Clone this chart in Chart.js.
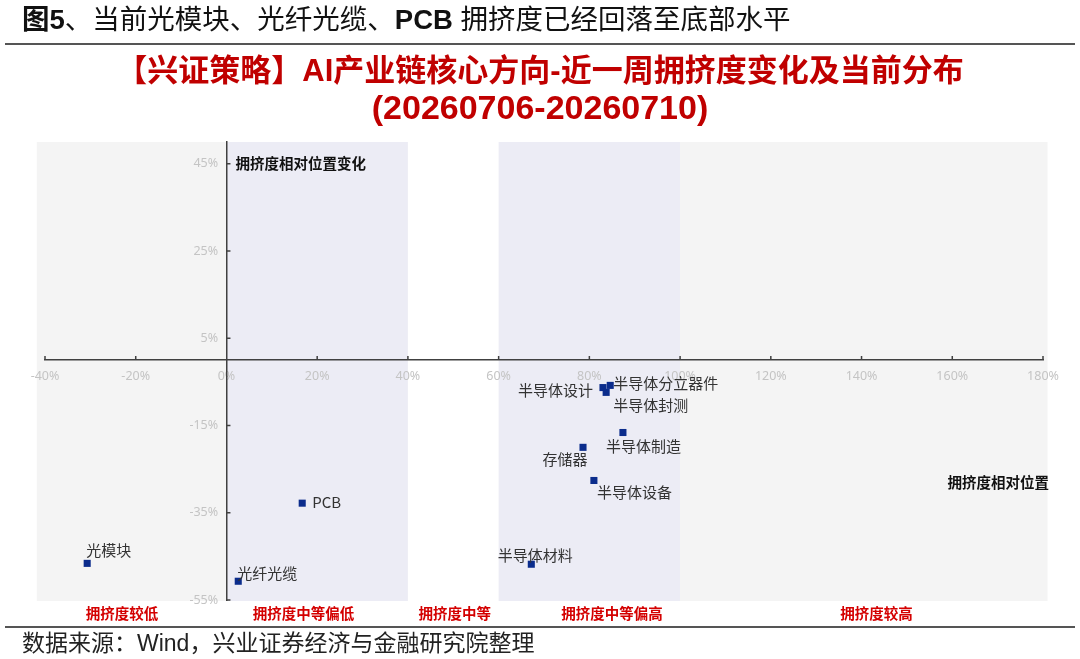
<!DOCTYPE html>
<html><head><meta charset="utf-8">
<script src="https://cdn.jsdelivr.net/npm/chart.js@4.4.1/dist/chart.umd.min.js"></script>
<style>
html,body{margin:0;padding:0;background:#fff;}
#wrap{position:relative;width:1080px;height:659px;overflow:hidden;font-family:"Liberation Sans","Noto Sans CJK SC",sans-serif;}
#c{position:absolute;left:0;top:0;}
.hdr{position:absolute;left:22px;top:5px;font-size:27.5px;line-height:30px;color:#111;white-space:nowrap;}
.rule{position:absolute;left:5px;width:1070px;height:2px;background:#555;}
.title{position:absolute;left:0;width:1080px;text-align:center;color:#c00000;font-weight:bold;font-size:31px;line-height:37px;white-space:nowrap;}
.foot{position:absolute;left:22px;top:630px;font-size:23px;line-height:26px;color:#222;white-space:nowrap;}
</style></head>
<body><div id="wrap">
<canvas id="c" width="1080" height="659"></canvas>
<div class="hdr"><b>图5</b>、当前光模块、光纤光缆、<b>PCB</b> 拥挤度已经回落至底部水平</div>
<div class="rule" style="top:43px"></div>
<div class="title" style="top:52px">【兴证策略】AI产业链核心方向-近一周拥挤度变化及当前分布</div>
<div class="title" style="top:88px;font-size:34px;line-height:38px">(20260706-20260710)</div>
<div class="rule" style="top:626px"></div>
<div class="foot">数据来源：Wind，兴业证券经济与金融研究院整理</div>
</div>
<script>
// ---- data ----
const names = ['光模块','光纤光缆','PCB','半导体材料','存储器','半导体设备','半导体制造','半导体设计','半导体分立器件','半导体封测'];
const xValues = [-30.7, 2.6, 16.7, 67.2, 78.6, 81.0, 87.4, 83.0, 84.6, 83.7];   // 拥挤度相对位置 (%)
const yValues = [-46.6, -50.7, -32.8, -46.8, -20.0, -27.6, -16.6, -6.3, -5.8, -7.4]; // 拥挤度相对位置变化 (%)
const xTicks = [-40, -20, 0, 20, 40, 60, 80, 100, 120, 140, 160, 180];
const yTicks = [-55, -35, -15, 5, 25, 45];
const zoneNames = ['拥挤度较低','拥挤度中等偏低','拥挤度中等','拥挤度中等偏高','拥挤度较高'];
const zoneEdges = [-41.8, 0, 40, 60, 100, 181];
const zoneLabelAt = [-23, 17, 50.3, 85, 143.3];

// ---- styles ----
const zoneColors = ['#f4f4f4','#ececf5','#ffffff','#ececf5','#f4f4f4'];
const labelPlace = { // [dx, dy, align]
  '光模块':[-1,-13,'left'], '光纤光缆':[-1,-8,'left'], 'PCB':[10,-1,'left'],
  '半导体材料':[4,-9,'center'], '存储器':[-18,12,'center'], '半导体设备':[3,12,'left'],
  '半导体制造':[-17,14,'left'], '半导体设计':[-10,3,'right'], '半导体分立器件':[3,-2,'left'],
  '半导体封测':[7,13,'left']
};
const CJK = '"Noto Sans CJK SC", sans-serif';

const bandsPlugin = {
  id: 'bands',
  beforeDraw(chart) {
    const {ctx, chartArea, scales:{x}} = chart;
    ctx.save();
    for (let i = 0; i < zoneColors.length; i++) {
      const l = x.getPixelForValue(zoneEdges[i]);
      const r = x.getPixelForValue(zoneEdges[i+1]);
      ctx.fillStyle = zoneColors[i];
      ctx.fillRect(l, chartArea.top, r - l, chartArea.bottom - chartArea.top + 1);
    }
    ctx.restore();
  },
  afterDraw(chart) {
    const {ctx, chartArea, scales:{x, y}} = chart;
    const x0 = x.getPixelForValue(0), y0 = y.getPixelForValue(0);
    ctx.save();
    ctx.strokeStyle = '#404040'; ctx.lineWidth = 1.5;
    ctx.beginPath();
    xTicks.forEach(v => { if (v === 0) return; const px = x.getPixelForValue(v); ctx.moveTo(px, y0 - 4); ctx.lineTo(px, y0); });
    yTicks.forEach(v => { const py = y.getPixelForValue(v); ctx.moveTo(x0, py); ctx.lineTo(x0 + 4, py); });
    ctx.stroke();
    // point labels
    const meta = chart.getDatasetMeta(0);
    ctx.font = '15px ' + CJK; ctx.fillStyle = '#333'; ctx.textBaseline = 'middle';
    meta.data.forEach((pt, i) => {
      const p = labelPlace[names[i]];
      ctx.textAlign = p[2];
      ctx.fillText(names[i], pt.x + p[0], pt.y + p[1]);
    });
    // zone labels
    ctx.font = 'bold 14.5px ' + CJK; ctx.fillStyle = '#d40000'; ctx.textAlign = 'center';
    zoneNames.forEach((n, i) => ctx.fillText(n, x.getPixelForValue(zoneLabelAt[i]), chartArea.bottom + 13));
    // axis titles
    ctx.font = 'bold 14.5px ' + CJK; ctx.fillStyle = '#111';
    ctx.textAlign = 'left';
    ctx.fillText('拥挤度相对位置变化', x0 + 9, y.getPixelForValue(45));
    ctx.textAlign = 'right';
    ctx.fillText('拥挤度相对位置', chartArea.right + 6, y.getPixelForValue(-28));
    ctx.restore();
  }
};

new Chart(document.getElementById('c'), {
  type: 'scatter',
  data: { datasets: [{
    data: xValues.map((v, i) => ({x: v, y: yValues[i]})),
    pointStyle: 'rect', pointRadius: 5, pointHoverRadius: 5,
    backgroundColor: '#0b2c8c', borderColor: '#0b2c8c', borderWidth: 0
  }]},
  options: {
    responsive: false, animation: false, devicePixelRatio: 1,
    layout: { padding: { left: 45, right: 37, top: 142, bottom: 59 } },
    plugins: { legend: {display: false}, tooltip: {enabled: false} },
    scales: {
      x: {
        type: 'linear', position: {y: 0}, min: -40, max: 180,
        afterBuildTicks: s => { s.ticks = xTicks.map(v => ({value: v})); },
        grid: {display: false, drawTicks: false},
        border: {display: true, color: '#404040', width: 1.5},
        ticks: {autoSkip: false, maxRotation: 0, padding: 9, color: '#c4c4c4', font: {size: 12.5, family: '"Noto Sans", sans-serif'}, callback: v => v + '%'}
      },
      y: {
        type: 'linear', position: {x: 0}, min: -55, max: 50,
        afterBuildTicks: s => { s.ticks = yTicks.map(v => ({value: v})); },
        grid: {display: false, drawTicks: false},
        border: {display: true, color: '#404040', width: 1.5},
        ticks: {autoSkip: false, padding: 8, color: '#c4c4c4', font: {size: 12.5, family: '"Noto Sans", sans-serif'}, callback: v => v + '%\u2002\u2009'}
      }
    }
  },
  plugins: [bandsPlugin]
});
</script>
</body></html>
